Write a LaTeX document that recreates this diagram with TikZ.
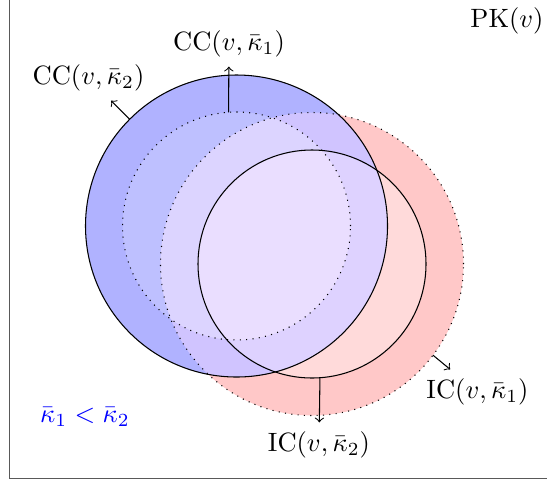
\documentclass[tikz,border=0pt]{standalone}
\usepackage{amsmath,amssymb}
\usepackage{tikz}

\definecolor{ronly}{RGB}{255,200,200}
\definecolor{rinonly}{RGB}{255,218,218}
\definecolor{bonly}{RGB}{176,178,255}
\definecolor{binonly}{RGB}{190,192,255}
\definecolor{brout}{RGB}{208,196,255}
\definecolor{brin}{RGB}{222,210,255}
\definecolor{binrout}{RGB}{220,212,255}
\definecolor{binrin}{RGB}{234,222,255}

\begin{document}
\begin{tikzpicture}[
  x=0.3774pt, y=-0.3774pt,
  ring/.style={circle, draw=black, inner sep=0pt, outer sep=0pt},
  pkframe/.style={draw=black!65, line width=0.6pt},
  arrow/.style={->}
  ]
  \useasboundingbox (0,0) rectangle (547,481);
  \draw[pkframe] (9.5,-20) rectangle (580,478.5);

  \coordinate (bc) at (236.5,226);
  \coordinate (rc) at (312,264);

  % shaded regions
  \fill[ronly] (rc) circle[radius=151.5];
  \fill[rinonly] (rc) circle[radius=114];
  \fill[bonly] (bc) circle[radius=151];
  \fill[binonly] (bc) circle[radius=114];
  \begin{scope}
    \clip (bc) circle[radius=151];
    \fill[brout] (rc) circle[radius=151.5];
    \fill[brin] (rc) circle[radius=114];
  \end{scope}
  \begin{scope}
    \clip (bc) circle[radius=114];
    \fill[binrout] (rc) circle[radius=151.5];
    \fill[binrin] (rc) circle[radius=114];
  \end{scope}

  % the four sets
  \node[ring, minimum size=113.97pt] (bo) at (bc) {};
  \node[ring, dotted, minimum size=86.05pt] (bi) at (bc) {};
  \node[ring, dotted, minimum size=114.35pt] (ro) at (rc) {};
  \node[ring, minimum size=86.05pt] (ri) at (rc) {};

  % labels
  \node (pk) at (507,21) {$\mathrm{PK}(v)$};
  \node (cc1) at (229,44) {$\mathrm{CC}(v,\bar{\kappa}_1)$};
  \node (cc2) at (88.5,78) {$\mathrm{CC}(v,\bar{\kappa}_2)$};
  \node (ic1) at (477.5,392) {$\mathrm{IC}(v,\bar{\kappa}_1)$};
  \node (ic2) at (319,445) {$\mathrm{IC}(v,\bar{\kappa}_2)$};
  \node[text=blue] (ord) at (85,417) {$\bar{\kappa}_1<\bar{\kappa}_2$};

  \draw[arrow] (bi.94) -- (cc1);
  \draw[arrow] (bo.135) -- (cc2);
  \draw[arrow] (ro.-37) -- (ic1);
  \draw[arrow] (ri.-86) -- (ic2);
\end{tikzpicture}
\end{document}
